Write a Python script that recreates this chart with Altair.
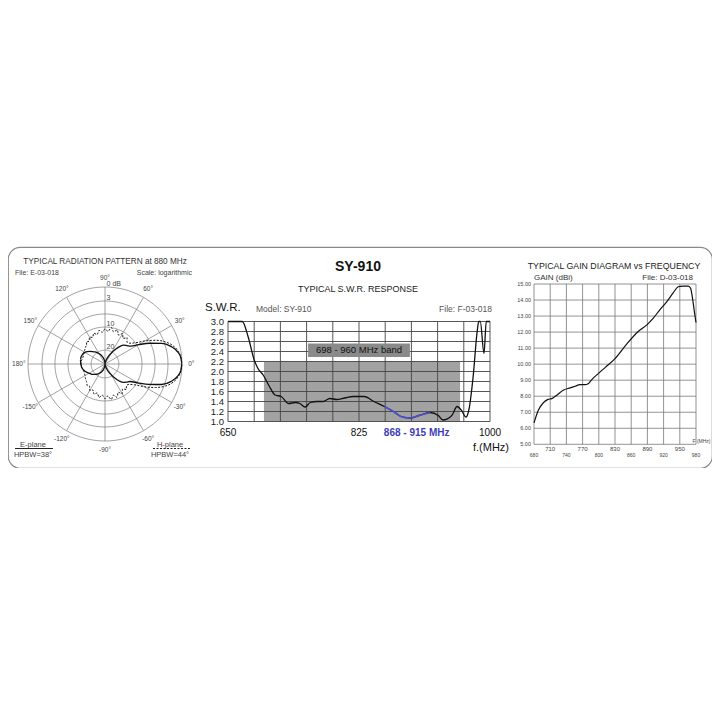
import altair as alt
import numpy as np
import pandas as pd

# ---------------- data ----------------
# Radiation pattern at 880 MHz (level below peak, dB) every 5 degrees
pattern_angles = list(range(-180, 181, 5))
e_plane_db = [15.6, 15.7, 15.9, 16.3, 16.8, 17.4, 18.0, 18.5, 19.0, 19.6, 20.2, 20.8,
              21.5, 22.1, 22.8, 23.7, 24.5, 25.3, 26.0, 25.9, 25.5, 24.7, 23.6, 22.1,
              20.6, 18.6, 16.4, 14.7, 13.8, 12.8, 9.8, 6.5, 3.7, 1.9, 0.8, 0.2,
              0.0,
              0.2, 0.8, 1.9, 3.6, 6.3, 9.5, 12.5, 13.6, 14.5, 16.2, 18.5, 20.5,
              22.0, 23.5, 24.6, 25.4, 25.8, 26.0, 25.0, 24.2, 23.3, 22.5, 21.6, 20.8,
              20.0, 19.2, 18.4, 17.5, 16.6, 15.9, 15.5, 15.3, 15.2, 15.2, 15.4, 15.6]
h_plane_db = [15.5, 15.8, 16.0, 16.2, 16.3, 16.2, 16.0, 15.6, 15.2, 14.8, 13.9, 14.3,
              12.8, 13.6, 12.1, 13.0, 11.3, 12.5, 11.0, 12.1, 10.4, 12.0, 10.7, 12.5,
              11.1, 12.8, 11.6, 12.9, 12.3, 10.3, 7.4, 4.7, 2.7, 1.4, 0.6, 0.15,
              0.0,
              0.15, 0.6, 1.4, 2.7, 4.6, 7.2, 10.0, 12.0, 12.6, 11.1, 12.4, 10.8,
              12.2, 10.3, 11.6, 10.0, 11.8, 10.8, 12.2, 11.2, 12.8, 11.8, 13.3, 12.6,
              14.0, 13.5, 14.8, 14.9, 15.3, 15.5, 15.8, 16.0, 16.0, 15.8, 15.6, 15.5]

# logarithmic radial scale of the polar diagram
scale_db = [0, 3, 6, 10, 20, 26]
scale_r = [1.0, 0.818, 0.65, 0.48, 0.18, 0.0]
ring_db = [0, 3, 6, 10, 20]
ring_label_db = [0, 3, 10, 20]
ring_label_text = ["0 dB", "3", "10", "20"]
spoke_angles = list(range(0, 360, 30))
angle_label_deg = [0, 30, 60, 90, 120, 150, 180, -150, -120, -90, -60, -30]
angle_label_txt = ["0°", "30°", "60°", "90°", "120°", "150°", "180°",
                   "-150°", "-120°", "-90°", "-60°", "-30°"]

# S.W.R. response
swr_freq = [650, 669, 677, 685, 690, 697, 705, 713, 721, 731, 740, 746, 753, 760,
            769, 777, 786, 795, 806, 817, 832, 845, 859, 872, 881, 893, 905, 920,
            931, 937, 949, 956, 962, 968, 972, 977.5, 983, 985, 987, 992, 995, 1000]
swr_vals = [3.0, 3.0, 2.69, 2.23, 2.06, 1.93, 1.71, 1.53, 1.50, 1.36, 1.38, 1.36, 1.29, 1.38,
            1.40, 1.40, 1.46, 1.44, 1.47, 1.50, 1.50, 1.40, 1.30, 1.19, 1.10, 1.07, 1.12, 1.18,
            1.12, 1.03, 1.12, 1.30, 1.22, 1.09, 1.25, 1.90, 2.82, 3.0, 3.0, 2.36, 3.0, 3.0]
swr_highlight = [868, 915]
swr_band = [698, 960]
swr_band_top = 2.2
swr_y_ticks = [1.0, 1.2, 1.4, 1.6, 1.8, 2.0, 2.2, 2.4, 2.6, 2.8, 3.0]
swr_x_grid = list(range(650, 1001, 35))
swr_x_labels = [650, 825, 1000]

# Gain vs frequency
gain_freq = [680, 688, 697, 706, 713, 722, 734, 747, 756, 765, 774, 781, 787, 799, 812,
             830, 852, 873, 889, 901, 913, 926, 938, 947, 956, 966, 970, 974, 977, 980]
gain_vals = [6.34, 7.13, 7.58, 7.80, 7.85, 8.06, 8.37, 8.52, 8.62, 8.72, 8.72, 8.80, 9.04,
             9.41, 9.80, 10.35, 11.27, 12.04, 12.45, 12.87, 13.39, 13.90, 14.46, 14.83,
             14.87, 14.87, 14.73, 14.00, 13.27, 12.60]
gain_x_ticks = list(range(680, 981, 30))
gain_y_ticks = list(range(5, 16))

# ---------------- styling / layout ----------------
FONT = "Liberation Sans"
GRID = "#7a7a7a"
VIEW_W, VIEW_H = 704, 221


def sc(domain, rng):
    return alt.Scale(domain=domain, range=rng, nice=False, zero=False)


PX, PY = sc([-1, 1], [20, 174]), sc([-1, 1], [194, 40])          # polar panel
SX, SY = sc([650, 1000], [220, 482]), sc([1, 3], [174.5, 74.5])   # S.W.R. panel
GX, GY = sc([680, 980], [526, 688]), sc([5, 15], [197.3, 37])     # gain panel


def X(f, s):
    return alt.X(f"{f}:Q", scale=s, axis=None)


def Y(f, s):
    return alt.Y(f"{f}:Q", scale=s, axis=None)


def to_r(db):
    return np.interp(np.asarray(db, dtype=float), scale_db, scale_r)


def label(text, x, y, size=9, align="center", color="#333", weight="normal", baseline="middle"):
    return alt.Chart(pd.DataFrame({"t": [text]})).mark_text(
        font=FONT, fontSize=size, align=align, baseline=baseline, color=color, fontWeight=weight
    ).encode(x=alt.value(x), y=alt.value(y), text="t:N")


layers = []

# ---------- polar panel ----------
ang = np.deg2rad(np.arange(0, 361, 3))
rows = []
for d in ring_db:
    r = float(to_r(d))
    for k, a in enumerate(ang):
        rows.append({"ring": d, "k": k, "x": r * np.cos(a), "y": r * np.sin(a)})
rings_df = pd.DataFrame(rows)
layers.append(alt.Chart(rings_df).mark_line(color=GRID, strokeWidth=0.7).encode(
    x=X("x", PX), y=Y("y", PY), detail="ring:N", order="k:Q"))

sp = pd.DataFrame({"a": spoke_angles})
sp["x"] = 0.0
sp["y"] = 0.0
sp["x2"] = np.cos(np.deg2rad(sp["a"]))
sp["y2"] = np.sin(np.deg2rad(sp["a"]))
layers.append(alt.Chart(sp).mark_rule(color=GRID, strokeWidth=0.7).encode(
    x=X("x", PX), y=Y("y", PY), x2="x2:Q", y2="y2:Q"))

rl = pd.DataFrame({"db": ring_label_db, "t": ring_label_text})
rl["y"] = to_r(rl["db"])
rl["x"] = 0.02
layers.append(alt.Chart(rl).mark_text(font=FONT, fontSize=7, align="left", baseline="bottom",
                                      color="#444").encode(x=X("x", PX), y=Y("y", PY), text="t:N"))

al = pd.DataFrame({"a": angle_label_deg, "t": angle_label_txt})
al["x"] = 1.12 * np.cos(np.deg2rad(al["a"]))
al["y"] = 1.12 * np.sin(np.deg2rad(al["a"]))
layers.append(alt.Chart(al).mark_text(font=FONT, fontSize=6.5, color="#444").encode(
    x=X("x", PX), y=Y("y", PY), text="t:N"))

pat = pd.DataFrame({"angle": pattern_angles, "E": e_plane_db, "H": h_plane_db})
for plane, dash, w in (("E", None, 1.3), ("H", [2, 1.5], 1.0)):
    d = pd.DataFrame({"angle": pat["angle"]})
    r = to_r(pat[plane])
    d["x"] = r * np.cos(np.deg2rad(d["angle"]))
    d["y"] = r * np.sin(np.deg2rad(d["angle"]))
    kw = dict(color="#111", strokeWidth=w, interpolate="monotone")
    if dash:
        kw["strokeDash"] = dash
    layers.append(alt.Chart(d).mark_line(**kw).encode(x=X("x", PX), y=Y("y", PY), order="angle:Q"))

layers += [
    label("TYPICAL RADIATION PATTERN at 880 MHz", 97, 15, size=8.2),
    label("File:  E-03-018", 7, 26, size=7, align="left", color="#444"),
    label("Scale: logarithmic", 184, 26, size=7, align="right", color="#444"),
    label("E-plane", 25, 197.5, size=7.5, color="#444"),
    label("HPBW=38°", 25, 207.5, size=7.5, color="#444"),
    label("H-plane", 162, 197.5, size=7.5, color="#444"),
    label("HPBW=44°", 162, 207.5, size=7.5, color="#444"),
    alt.Chart(pd.DataFrame({"t": [0]})).mark_rule(color="#222", strokeWidth=1).encode(
        x=alt.value(7), x2=alt.value(45), y=alt.value(201.5)),
    alt.Chart(pd.DataFrame({"t": [0]})).mark_rule(color="#222", strokeWidth=1, strokeDash=[2, 1.5]).encode(
        x=alt.value(145), x2=alt.value(182), y=alt.value(201.5)),
]

# ---------- S.W.R. panel ----------
band_df = pd.DataFrame({"f0": [swr_band[0]], "f1": [swr_band[1]], "y0": [1.0], "y1": [swr_band_top]})
layers.append(alt.Chart(band_df).mark_rect(color="#a2a2a2").encode(
    x=X("f0", SX), x2="f1:Q", y=Y("y0", SY), y2="y1:Q"))

vg = pd.DataFrame({"f": swr_x_grid, "lo": 1.0, "hi": 3.0})
layers.append(alt.Chart(vg).mark_rule(color="#444", strokeWidth=0.9).encode(
    x=X("f", SX), y=Y("lo", SY), y2="hi:Q"))
hg = pd.DataFrame({"v": swr_y_ticks, "lo": 650, "hi": 1000})
layers.append(alt.Chart(hg).mark_rule(color="#444", strokeWidth=0.9).encode(
    y=Y("v", SY), x=X("lo", SX), x2="hi:Q"))

box_df = pd.DataFrame({"f0": [757], "f1": [893], "y0": [2.29], "y1": [2.56], "fc": [825], "yc": [2.425],
                       "t": ["698 - 960 MHz band"]})
layers.append(alt.Chart(box_df).mark_rect(color="#8a8a8a").encode(
    x=X("f0", SX), x2="f1:Q", y=Y("y0", SY), y2="y1:Q"))
layers.append(alt.Chart(box_df).mark_text(font=FONT, fontSize=9.5, color="#111").encode(
    x=X("fc", SX), y=Y("yc", SY), text="t:N"))

swr_df = pd.DataFrame({"f": swr_freq, "swr": swr_vals})
layers.append(alt.Chart(swr_df).mark_line(color="#111", strokeWidth=1.3, interpolate="monotone").encode(
    x=X("f", SX), y=Y("swr", SY)))
hi_df = swr_df[(swr_df["f"] >= 859) & (swr_df["f"] <= 920)]
layers.append(alt.Chart(hi_df).mark_line(color="#4f4fcf", strokeWidth=1.6, interpolate="monotone").encode(
    x=X("f", SX), y=Y("swr", SY)))

yl = pd.DataFrame({"v": swr_y_ticks})
layers.append(alt.Chart(yl).mark_text(font=FONT, fontSize=9.5, align="right", color="#222").encode(
    x=alt.value(216), y=Y("v", SY), text=alt.Text("v:Q", format=".1f")))
xl = pd.DataFrame({"f": swr_x_labels})
layers.append(alt.Chart(xl).mark_text(font=FONT, fontSize=10, color="#111").encode(
    x=X("f", SX), y=alt.value(186), text=alt.Text("f:Q", format="d")))
hl = pd.DataFrame({"f": [sum(swr_highlight) / 2 + 10.5], "t": ["868 - 915 MHz"]})
layers.append(alt.Chart(hl).mark_text(font=FONT, fontSize=10, fontWeight="bold", color="#3d3db8").encode(
    x=X("f", SX), y=alt.value(186), text="t:N"))

layers += [
    label("SY-910", 350, 20, size=14, weight="bold", color="#111"),
    label("TYPICAL S.W.R. RESPONSE", 350, 42, size=9, color="#222"),
    label("S.W.R.", 197, 61, size=11.5, align="left", color="#111"),
    label("Model:  SY-910", 248, 61.5, size=8.5, align="left", color="#555"),
    label("File:  F-03-018", 484, 61.5, size=8.5, align="right", color="#555"),
    label("f.(MHz)", 483, 201, size=11, color="#111"),
]

# ---------- gain panel ----------
gvg = pd.DataFrame({"f": gain_x_ticks, "lo": 5, "hi": 15})
layers.append(alt.Chart(gvg).mark_rule(color="#777", strokeWidth=0.8).encode(
    x=X("f", GX), y=Y("lo", GY), y2="hi:Q"))
ghg = pd.DataFrame({"v": gain_y_ticks, "lo": 680, "hi": 980})
layers.append(alt.Chart(ghg).mark_rule(color="#777", strokeWidth=0.8).encode(
    y=Y("v", GY), x=X("lo", GX), x2="hi:Q"))

gain_df = pd.DataFrame({"f": gain_freq, "g": gain_vals})
layers.append(alt.Chart(gain_df).mark_line(color="#111", strokeWidth=1.2, interpolate="monotone").encode(
    x=X("f", GX), y=Y("g", GY)))

gyl = pd.DataFrame({"v": gain_y_ticks})
layers.append(alt.Chart(gyl).mark_text(font=FONT, fontSize=5.5, align="right", color="#444").encode(
    x=alt.value(523), y=Y("v", GY), text=alt.Text("v:Q", format=".2f")))
gx_low = pd.DataFrame({"f": gain_x_ticks[0::2]})
gx_up = pd.DataFrame({"f": gain_x_ticks[1::2]})
layers.append(alt.Chart(gx_up).mark_text(font=FONT, fontSize=6, color="#444").encode(
    x=X("f", GX), y=alt.value(201.5), text=alt.Text("f:Q", format="d")))
layers.append(alt.Chart(gx_low).mark_text(font=FONT, fontSize=5, color="#444").encode(
    x=X("f", GX), y=alt.value(207.5), text=alt.Text("f:Q", format="d")))

layers += [
    label("TYPICAL GAIN DIAGRAM vs FREQUENCY", 606, 18.5, size=8.8, color="#222"),
    label("GAIN (dBi)", 526, 31, size=8, align="left", color="#333"),
    label("File:  D-03-018", 685, 31, size=8, align="right", color="#333"),
    label("F (MHz)", 702.5, 194, size=5, align="right", color="#444"),
]

chart = alt.layer(*layers).resolve_scale(x="independent", y="independent").properties(
    width=VIEW_W, height=VIEW_H,
    padding={"left": 0, "top": 239, "right": 0, "bottom": 0},
    autosize=alt.AutoSizeParams(type="none"),
).configure_view(stroke="#8a8a8a", strokeWidth=1.2, cornerRadius=12)

chart.save("out.html", embed_options={"renderer": "svg", "actions": False})
